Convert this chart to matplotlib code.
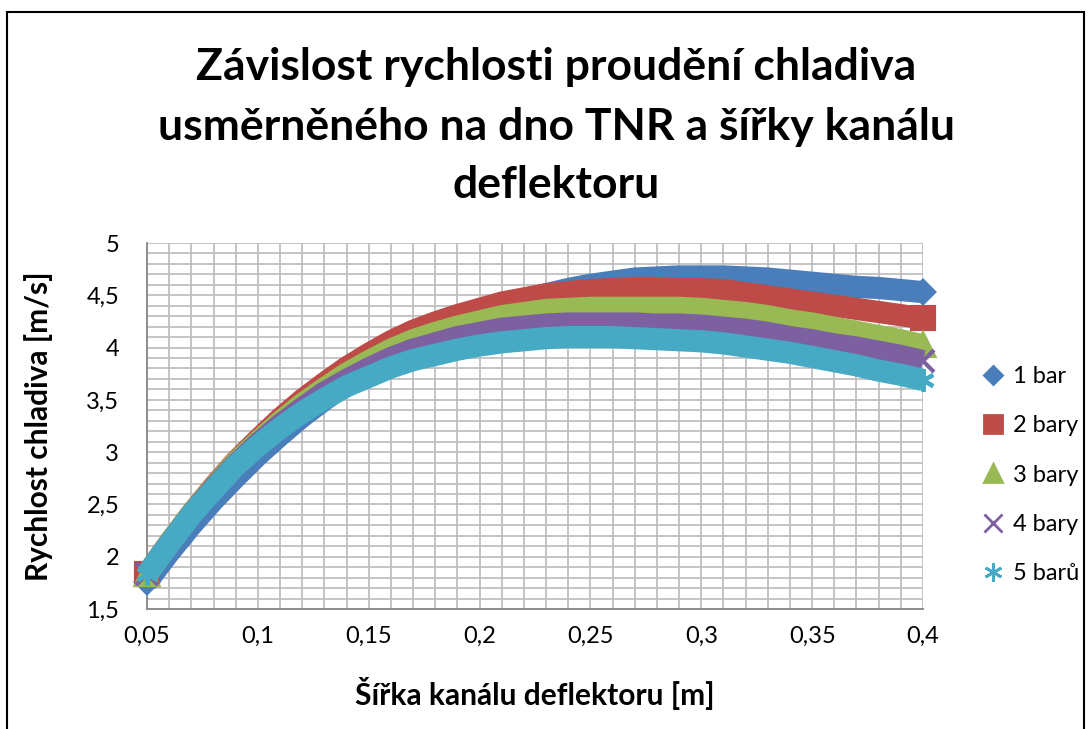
import matplotlib
matplotlib.use("Agg")
import matplotlib.pyplot as plt
from matplotlib.ticker import MultipleLocator, FuncFormatter
from matplotlib.lines import Line2D
from matplotlib.patches import Rectangle

plt.rcParams['font.family'] = ['Lato', 'DejaVu Sans']

# channel width [m]
sirka = [0.05, 0.06, 0.07, 0.08, 0.09, 0.10, 0.11, 0.12, 0.13, 0.14, 0.15, 0.16,
         0.17, 0.18, 0.19, 0.20, 0.21, 0.22, 0.23, 0.24, 0.25, 0.26, 0.27, 0.28,
         0.29, 0.30, 0.31, 0.32, 0.33, 0.34, 0.35, 0.36, 0.37, 0.38, 0.39, 0.40]

# coolant velocity [m/s] for each pressure
v_1bar = [1.76, 2.04, 2.30, 2.54, 2.76, 2.97, 3.16, 3.34, 3.50, 3.65, 3.78, 3.90,
          4.01, 4.11, 4.21, 4.30, 4.38, 4.45, 4.51, 4.56, 4.60, 4.63, 4.66, 4.67,
          4.68, 4.68, 4.68, 4.67, 4.66, 4.64, 4.62, 4.60, 4.58, 4.57, 4.55, 4.53]
v_2bary = [1.83, 2.13, 2.41, 2.67, 2.91, 3.12, 3.32, 3.50, 3.66, 3.81, 3.94, 4.06,
           4.16, 4.24, 4.31, 4.37, 4.43, 4.47, 4.51, 4.53, 4.55, 4.56, 4.57, 4.57,
           4.56, 4.56, 4.55, 4.52, 4.49, 4.46, 4.43, 4.40, 4.37, 4.34, 4.31, 4.28]
v_3bary = [1.83, 2.13, 2.41, 2.66, 2.90, 3.10, 3.29, 3.46, 3.61, 3.75, 3.87, 3.98,
           4.07, 4.14, 4.20, 4.25, 4.30, 4.33, 4.36, 4.37, 4.38, 4.38, 4.38, 4.38,
           4.38, 4.37, 4.35, 4.33, 4.30, 4.26, 4.23, 4.19, 4.15, 4.11, 4.07, 4.02]
v_4bary = [1.83, 2.12, 2.40, 2.65, 2.88, 3.08, 3.26, 3.42, 3.57, 3.69, 3.80, 3.90,
           3.98, 4.04, 4.10, 4.14, 4.18, 4.20, 4.22, 4.23, 4.23, 4.23, 4.23, 4.22,
           4.22, 4.21, 4.19, 4.17, 4.14, 4.10, 4.07, 4.03, 4.00, 3.96, 3.92, 3.87]
v_5baru = [1.83, 2.12, 2.40, 2.64, 2.87, 3.06, 3.23, 3.38, 3.51, 3.63, 3.72, 3.81,
           3.88, 3.93, 3.98, 4.02, 4.05, 4.07, 4.09, 4.10, 4.10, 4.10, 4.09, 4.08,
           4.07, 4.06, 4.04, 4.01, 3.98, 3.95, 3.91, 3.87, 3.83, 3.78, 3.74, 3.69]

nazvy = ['1 bar', '2 bary', '3 bary', '4 bary', '5 barů']
barvy = ['#4a7ebb', '#be4b48', '#98b954', '#7d60a0', '#46aac5']
znacky = ['D', 's', '^', 'x', (6, 2, 0)]
velikosti = [11.5, 16, 16, 16, 16]
serie = [v_1bar, v_2bary, v_3bary, v_4bary, v_5baru]

fig = plt.figure(figsize=(10.91, 7.29), dpi=100)
ax = fig.add_axes([147 / 1091, 120 / 729, 776 / 1091, 366 / 729])

konce = [0, len(sirka) - 1]
for i in range(len(serie)):
    ax.plot(sirka, serie[i], color=barvy[i], lw=16, solid_joinstyle='round',
            solid_capstyle='butt', zorder=3 + i, clip_on=False)
    ax.plot(sirka, serie[i], ls='none', marker=znacky[i], ms=velikosti[i],
            markevery=konce, color=barvy[i], mec=barvy[i], mew=3,
            zorder=3 + i, clip_on=False)

ax.set_xlim(0.05, 0.4)
ax.set_ylim(1.5, 5)
ax.xaxis.set_major_locator(MultipleLocator(0.05))
ax.xaxis.set_minor_locator(MultipleLocator(0.01))
ax.yaxis.set_major_locator(MultipleLocator(0.5))
ax.yaxis.set_minor_locator(MultipleLocator(0.1))
carka = FuncFormatter(lambda v, _: f"{v:g}".replace('.', ','))
ax.xaxis.set_major_formatter(carka)
ax.yaxis.set_major_formatter(carka)
ax.grid(True, which='both', color='#bfbfbf', lw=1.3, zorder=0)
ax.set_axisbelow(True)
ax.tick_params(which='both', length=0, labelsize=17)
ax.tick_params(axis='x', pad=12)
ax.tick_params(axis='y', pad=20)
for s in ['top', 'right']:
    ax.spines[s].set_visible(False)
for s in ['left', 'bottom']:
    ax.spines[s].set_color('#868686')
    ax.spines[s].set_linewidth(1.3)

ax.set_xlabel('Šířka kanálu deflektoru [m]', fontsize=21.5, fontweight='bold')
ax.set_ylabel('Rychlost chladiva [m/s]', fontsize=21.5, fontweight='bold')
ax.xaxis.set_label_coords(0.5, -0.185)
ax.yaxis.set_label_coords(-0.121, 0.5)

titulek = ['Závislost rychlosti proudění chladiva',
           'usměrněného na dno TNR a šířky kanálu',
           'deflektoru']
radky_y = [67, 127, 185]
for t, yy in zip(titulek, radky_y):
    fig.text(556 / 1091, 1 - yy / 729, t, ha='center', va='center',
             fontsize=32, fontweight='bold')

handles = []
for i in range(len(serie)):
    ms = 9.2 if znacky[i] == 'D' else 13
    handles.append(Line2D([], [], ls='none', marker=znacky[i], ms=ms,
                          color=barvy[i], mec=barvy[i], mew=2))
ax.legend(handles, nazvy, loc='center left', bbox_to_anchor=(1.075, 0.366),
          frameon=False, fontsize=17, labelspacing=1.2, handlelength=1.0,
          handletextpad=0.35, borderpad=0, borderaxespad=0)

fig.patches.append(Rectangle((7 / 1091, -0.02), 1077 / 1091, 1 - 12 / 729 + 0.02,
                             transform=fig.transFigure, fill=False,
                             edgecolor='black', lw=1.5))

fig.savefig('out.png', dpi=100)
